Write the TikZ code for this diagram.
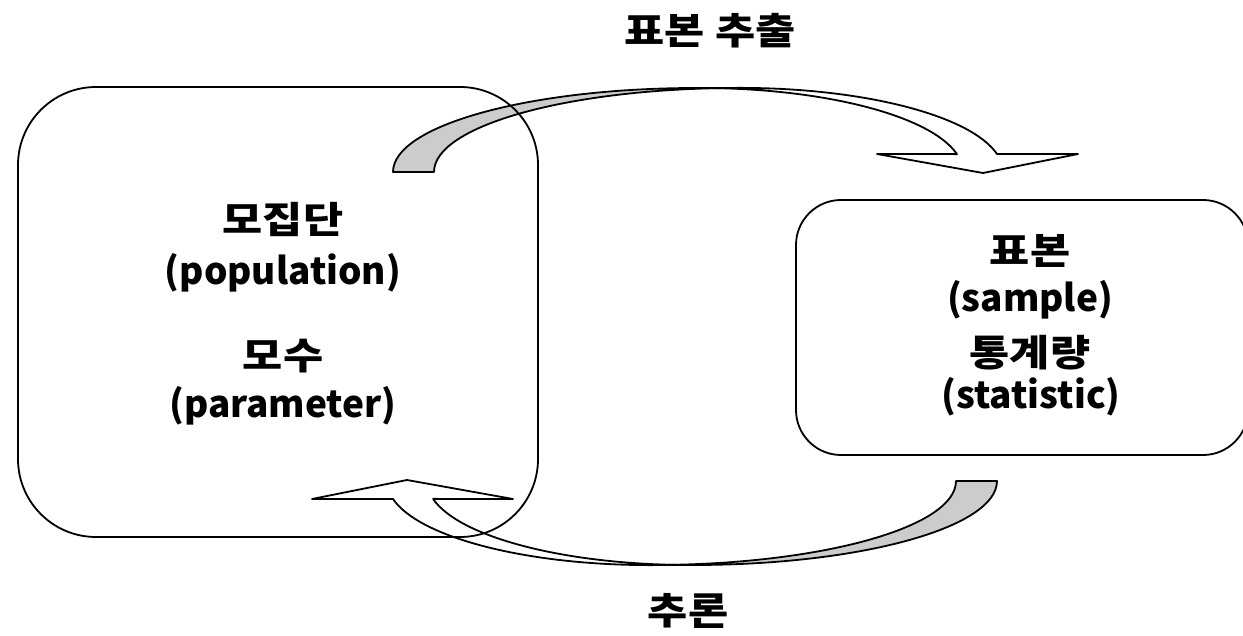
\documentclass[tikz,border=0pt]{standalone}
\usepackage{fontspec}
\newfontfamily\krfont{Noto Sans CJK KR}
\newfontfamily\krwide{Noto Sans CJK KR}[FakeStretch=1.18]
\tikzset{
  band/.style={draw=black, line width=1.8pt, line join=round},
  backband/.style={band, fill=black!20},
  frontband/.style={band, fill=white},
  boxframe/.style={draw=black, line width=1.8pt, inner sep=0pt},
  lbl/.style={font=\krfont\bfseries\fontsize{37}{40}\selectfont, inner sep=0pt},
  klbl/.style={font=\krwide\bfseries\fontsize{37}{40}\selectfont, inner sep=0pt},
  curvedarrow/.pic={
    \path[backband] (393,-172) arc[start angle=180, end angle=90, x radius=304, y radius=84]
      -- (738,-88) arc[start angle=90, end angle=180, x radius=304, y radius=84] -- cycle;
    \path[frontband] (700,-88) arc[start angle=90, end angle=12.3, x radius=263, y radius=84]
      -- (877,-154) -- (983,-173) -- (1078,-154) -- (997,-154)
      arc[start angle=12.3, end angle=90, x radius=263, y radius=84] -- cycle;
  }
}
\begin{document}
\begin{tikzpicture}[x=1pt, y=1pt]
\useasboundingbox (0,0) rectangle (1243,-636);
% curved block arrows
\pic[transform shape] {curvedarrow};
\begin{scope}[rotate around={180:(695,-326.5)}]
  \pic[transform shape] {curvedarrow};
\end{scope}
% boxes
\node[boxframe, rounded corners=78pt, minimum width=520pt, minimum height=450pt] (pop) at (278,-312) {};
\node[boxframe, rounded corners=45pt, minimum width=452pt, minimum height=255pt] (smp) at (1022,-327.5) {};
% texts
\node[klbl] (t1) at (283,-219) {모집단};
\node[lbl] (t2) at (283,-273) {(population)};
\node[klbl] (t3) at (283,-356) {모수};
\node[lbl] (t4) at (283,-406) {(parameter)};
\node[klbl] (s1) at (1030,-251) {표본};
\node[lbl] (s2) at (1030,-300) {(sample)};
\node[klbl] (s3) at (1030,-353) {통계량};
\node[lbl] (s4) at (1031,-397) {(statistic)};
\node[klbl] (ttop) at (710,-31) {표본 추출};
\node[klbl] (tbot) at (688,-611) {추론};
\end{tikzpicture}
\end{document}
